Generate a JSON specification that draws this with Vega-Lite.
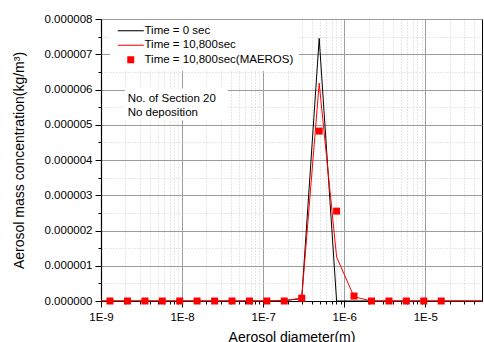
{
  "$schema": "https://vega.github.io/schema/vega-lite/v6.json",
  "width": 381,
  "height": 282,
  "autosize": {"type": "none"},
  "padding": {"left": 101, "top": 19, "right": 2, "bottom": 41},
  "background": "white",
  "config": {
    "font": "Liberation Sans",
    "view": {"stroke": "black", "strokeWidth": 1},
    "axis": {
      "labelFontSize": 11.5,
      "labelColor": "black",
      "titleFontSize": 14,
      "titleFontWeight": "normal",
      "titleColor": "black",
      "tickColor": "black",
      "domainColor": "black",
      "domainWidth": 1.2,
      "labelOverlap": false,
      "labelFlush": false
    }
  },
  "resolve": {"axis": {"x": "independent", "y": "independent"}},
  "datasets": {
    "t0": [
      {"d": 1e-9, "c": 0},
      {"d": 1.29e-9, "c": 0},
      {"d": 2.12e-9, "c": 0},
      {"d": 3.48e-9, "c": 0},
      {"d": 5.70e-9, "c": 0},
      {"d": 9.35e-9, "c": 0},
      {"d": 1.53e-8, "c": 0},
      {"d": 2.52e-8, "c": 0},
      {"d": 4.13e-8, "c": 0},
      {"d": 6.78e-8, "c": 0},
      {"d": 1.11e-7, "c": 0},
      {"d": 1.82e-7, "c": 1e-8},
      {"d": 2.99e-7, "c": 7e-8},
      {"d": 4.91e-7, "c": 7.45e-6},
      {"d": 8.05e-7, "c": 0},
      {"d": 1.32e-6, "c": 0},
      {"d": 2.17e-6, "c": 0},
      {"d": 3.56e-6, "c": 0},
      {"d": 5.83e-6, "c": 0},
      {"d": 9.57e-6, "c": 0},
      {"d": 1.57e-5, "c": 0},
      {"d": 5e-5, "c": 0}
    ],
    "t10800": [
      {"d": 1e-9, "c": 0},
      {"d": 1.29e-9, "c": 0},
      {"d": 2.12e-9, "c": 0},
      {"d": 3.48e-9, "c": 0},
      {"d": 5.70e-9, "c": 0},
      {"d": 9.35e-9, "c": 0},
      {"d": 1.53e-8, "c": 0},
      {"d": 2.52e-8, "c": 0},
      {"d": 4.13e-8, "c": 0},
      {"d": 6.78e-8, "c": 0},
      {"d": 1.11e-7, "c": 0},
      {"d": 1.82e-7, "c": 1e-8},
      {"d": 2.99e-7, "c": 8e-8},
      {"d": 4.91e-7, "c": 6.18e-6},
      {"d": 8.05e-7, "c": 1.25e-6},
      {"d": 1.32e-6, "c": 1.2e-7},
      {"d": 2.17e-6, "c": 0},
      {"d": 3.56e-6, "c": 0},
      {"d": 5.83e-6, "c": 0},
      {"d": 9.57e-6, "c": 0},
      {"d": 1.57e-5, "c": 0},
      {"d": 5e-5, "c": 0}
    ],
    "maeros": [
      {"d": 1.29e-9, "c": 0, "series": "Time = 10,800sec(MAEROS)"},
      {"d": 2.12e-9, "c": 0, "series": "Time = 10,800sec(MAEROS)"},
      {"d": 3.48e-9, "c": 0, "series": "Time = 10,800sec(MAEROS)"},
      {"d": 5.70e-9, "c": 0, "series": "Time = 10,800sec(MAEROS)"},
      {"d": 9.35e-9, "c": 0, "series": "Time = 10,800sec(MAEROS)"},
      {"d": 1.53e-8, "c": 0, "series": "Time = 10,800sec(MAEROS)"},
      {"d": 2.52e-8, "c": 0, "series": "Time = 10,800sec(MAEROS)"},
      {"d": 4.13e-8, "c": 0, "series": "Time = 10,800sec(MAEROS)"},
      {"d": 6.78e-8, "c": 0, "series": "Time = 10,800sec(MAEROS)"},
      {"d": 1.11e-7, "c": 0, "series": "Time = 10,800sec(MAEROS)"},
      {"d": 1.82e-7, "c": 0, "series": "Time = 10,800sec(MAEROS)"},
      {"d": 2.99e-7, "c": 8e-8, "series": "Time = 10,800sec(MAEROS)"},
      {"d": 4.91e-7, "c": 4.82e-6, "series": "Time = 10,800sec(MAEROS)"},
      {"d": 8.05e-7, "c": 2.55e-6, "series": "Time = 10,800sec(MAEROS)"},
      {"d": 1.32e-6, "c": 1.4e-7, "series": "Time = 10,800sec(MAEROS)"},
      {"d": 2.17e-6, "c": 0, "series": "Time = 10,800sec(MAEROS)"},
      {"d": 3.56e-6, "c": 0, "series": "Time = 10,800sec(MAEROS)"},
      {"d": 5.83e-6, "c": 0, "series": "Time = 10,800sec(MAEROS)"},
      {"d": 9.57e-6, "c": 0, "series": "Time = 10,800sec(MAEROS)"},
      {"d": 1.57e-5, "c": 0, "series": "Time = 10,800sec(MAEROS)"}
    ],
    "note": [
      {"note": "No. of Section 20\nNo deposition"}
    ]
  },
  "layer": [
    {
      "data": {"name": "t0"},
      "mark": {"type": "line", "color": "black", "strokeWidth": 1},
      "encoding": {
        "x": {
          "field": "d",
          "type": "quantitative",
          "scale": {"type": "log", "domain": [1e-9, 5e-5]},
          "axis": {
            "orient": "bottom",
            "title": "Aerosol diameter(m)",
            "titleY": 40,
            "titleBaseline": "alphabetic",
            "values": [1e-9, 2e-9, 3e-9, 4e-9, 5e-9, 6e-9, 7e-9, 8e-9, 9e-9, 1e-8, 2e-8, 3e-8, 4e-8, 5e-8, 6e-8, 7e-8, 8e-8, 9e-8, 1e-7, 2e-7, 3e-7, 4e-7, 5e-7, 6e-7, 7e-7, 8e-7, 9e-7, 1e-6, 2e-6, 3e-6, 4e-6, 5e-6, 6e-6, 7e-6, 8e-6, 9e-6, 1e-5, 2e-5, 3e-5, 4e-5],
            "labelExpr": "abs(log(datum.value)/LN10 - round(log(datum.value)/LN10)) < 0.001 ? '1E-' + round(-log(datum.value)/LN10) : ''",
            "labelPadding": 4,
            "tickSize": {"condition": {"test": "abs(log(datum.value)/LN10 - round(log(datum.value)/LN10)) < 0.001", "value": 6}, "value": 3},
            "gridColor": {"condition": {"test": "abs(log(datum.value)/LN10 - round(log(datum.value)/LN10)) < 0.001", "value": "#9c9c9c"}, "value": "#cfcfcf"},
            "gridDash": {"condition": {"test": "abs(log(datum.value)/LN10 - round(log(datum.value)/LN10)) < 0.001", "value": []}, "value": [1, 2]},
            "gridOpacity": 1
          }
        },
        "y": {
          "field": "c",
          "type": "quantitative",
          "scale": {"domain": [0, 8e-6], "nice": false},
          "axis": {
            "orient": "left",
            "title": "Aerosol mass concentration(kg/m³)",
            "titleX": -78,
            "titleY": 141,
            "titleBaseline": "alphabetic",
            "values": [0, 5e-7, 1e-6, 1.5e-6, 2e-6, 2.5e-6, 3e-6, 3.5e-6, 4e-6, 4.5e-6, 5e-6, 5.5e-6, 6e-6, 6.5e-6, 7e-6, 7.5e-6, 8e-6],
            "labelExpr": "round(datum.value*2e6) % 2 == 0 ? format(datum.value, '.6f') : ''",
            "labelPadding": 3,
            "tickSize": {"condition": {"test": "round(datum.value*2e6) % 2 == 0", "value": 6}, "value": 3},
            "gridColor": {"condition": {"test": "round(datum.value*2e6) % 2 == 0", "value": "#9c9c9c"}, "value": "#cfcfcf"},
            "gridDash": {"condition": {"test": "round(datum.value*2e6) % 2 == 0", "value": []}, "value": [1, 2]},
            "gridOpacity": 1
          }
        }
      }
    },
    {
      "data": {"name": "t10800"},
      "mark": {"type": "line", "color": "red", "strokeWidth": 1},
      "encoding": {
        "x": {"field": "d", "type": "quantitative", "scale": {"type": "log", "domain": [1e-9, 5e-5]}, "axis": null},
        "y": {"field": "c", "type": "quantitative", "scale": {"domain": [0, 8e-6], "nice": false}, "axis": null}
      }
    },
    {
      "data": {"name": "maeros"},
      "mark": {"type": "point", "filled": true, "opacity": 1, "size": 49},
      "encoding": {
        "x": {"field": "d", "type": "quantitative", "scale": {"type": "log", "domain": [1e-9, 5e-5]}, "axis": null},
        "y": {"field": "c", "type": "quantitative", "scale": {"domain": [0, 8e-6], "nice": false}, "axis": null},
        "color": {
          "field": "series",
          "type": "nominal",
          "scale": {"domain": ["Time = 0 sec", "Time = 10,800sec", "Time = 10,800sec(MAEROS)"], "range": ["black", "red", "red"]},
          "legend": {
            "title": null,
            "orient": "none",
            "legendX": 9,
            "legendY": 1,
            "fillColor": "white",
            "padding": 5,
            "labelFontSize": 11.5,
            "labelColor": "black",
            "labelLimit": 300,
            "labelOffset": 8,
            "symbolOffset": 10,
            "symbolSize": 49,
            "symbolStrokeWidth": 0,
            "rowPadding": 1.5
          }
        },
        "shape": {
          "field": "series",
          "type": "nominal",
          "scale": {"domain": ["Time = 0 sec", "Time = 10,800sec", "Time = 10,800sec(MAEROS)"], "range": ["M-3.714,-0.15H3.714V0.15H-3.714Z", "M-3.714,-0.15H3.714V0.15H-3.714Z", "square"]}
        }
      }
    },
    {
      "data": {"name": "note"},
      "mark": {"type": "rect", "color": "white"},
      "encoding": {
        "x": {"datum": 1.97e-9, "type": "quantitative", "scale": {"type": "log", "domain": [1e-9, 5e-5]}, "axis": null},
        "x2": {"datum": 3.63e-8},
        "y": {"datum": 5.13e-6, "type": "quantitative", "scale": {"domain": [0, 8e-6], "nice": false}, "axis": null},
        "y2": {"datum": 6.03e-6}
      }
    },
    {
      "data": {"name": "note"},
      "mark": {"type": "text", "align": "left", "baseline": "alphabetic", "fontSize": 11.5, "lineHeight": 13.4, "lineBreak": "\n", "color": "black"},
      "encoding": {
        "x": {"datum": 2.13e-9, "type": "quantitative", "scale": {"type": "log", "domain": [1e-9, 5e-5]}, "axis": null},
        "y": {"datum": 5.637e-6, "type": "quantitative", "scale": {"domain": [0, 8e-6], "nice": false}, "axis": null},
        "text": {"field": "note", "type": "nominal"}
      }
    }
  ]
}
